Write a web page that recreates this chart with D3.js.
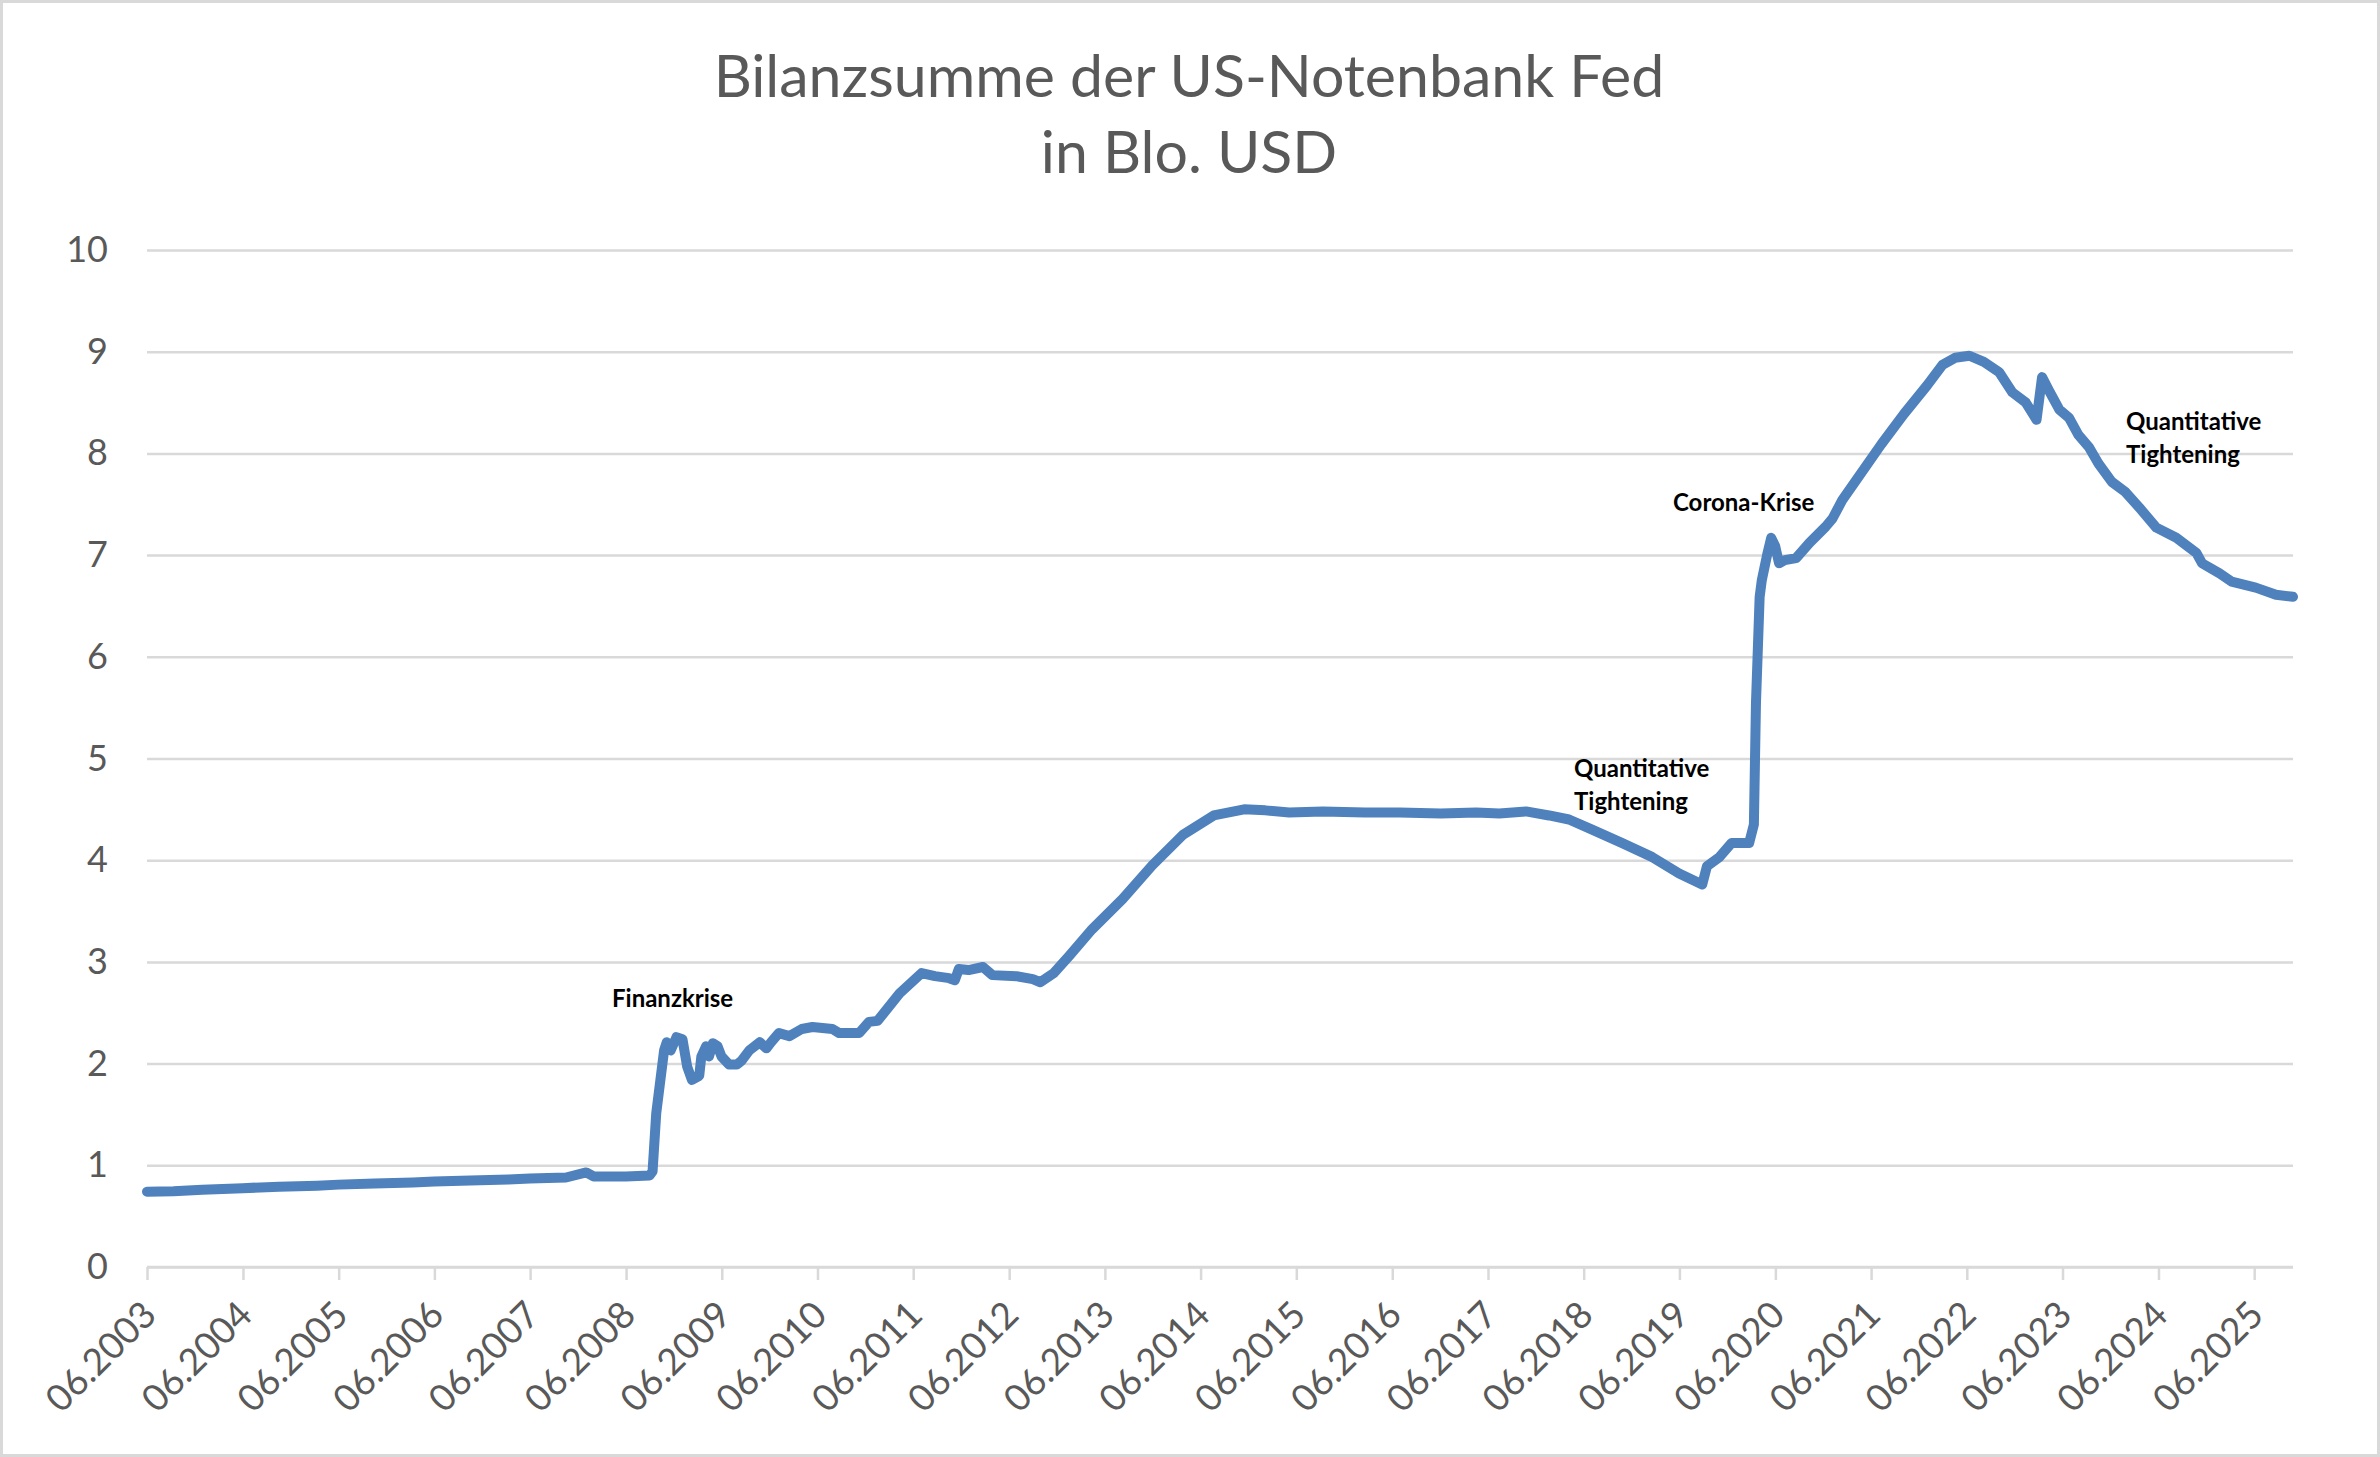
<!DOCTYPE html>
<html><head><meta charset="utf-8">
<script src="https://cdn.jsdelivr.net/npm/d3@7"></script>
<style>html,body{margin:0;padding:0;background:#fff;} svg{display:block}</style>
</head><body>
<svg id="chart" width="2380" height="1457"></svg>
<script>
// ---------- data ----------
const titleLines = ["Bilanzsumme der US-Notenbank Fed", "in Blo. USD"];
const dates = [
 "2003-06-04","2003-09-13","2004-01-01","2004-06-03","2004-10-19","2005-03-14","2005-06-03","2005-10-19",
 "2006-03-14","2006-06-03","2006-10-19","2007-03-14","2007-06-03","2007-10-19","2008-01-04","2008-02-01",
 "2008-06-03","2008-09-02","2008-09-13","2008-09-27","2008-10-08","2008-10-27","2008-11-06","2008-11-21",
 "2008-12-13","2009-01-05","2009-01-23","2009-02-10","2009-03-10","2009-03-18","2009-04-05","2009-04-16",
 "2009-05-01","2009-05-19","2009-06-03","2009-07-02","2009-07-31","2009-08-19","2009-09-17","2009-10-27",
 "2009-11-21","2009-12-09","2010-01-08","2010-02-17","2010-04-05","2010-05-16","2010-07-31","2010-08-26",
 "2010-11-10","2010-12-17","2011-01-19","2011-04-13","2011-07-06","2011-08-26","2011-10-19","2011-11-10",
 "2011-11-25","2012-01-01","2012-02-25","2012-04-01","2012-07-02","2012-09-02","2012-10-01","2012-11-21",
 "2013-01-19","2013-04-16","2013-08-11","2013-12-02","2014-03-29","2014-07-24","2014-11-17","2015-02-06",
 "2015-05-08","2015-09-13","2016-02-21","2016-07-02","2016-12-06","2017-04-20","2017-07-17","2017-10-27",
 "2018-01-23","2018-04-09","2018-07-06","2018-10-27","2019-02-21","2019-06-03","2019-08-30","2019-09-17",
 "2019-11-03","2019-12-20","2020-02-25","2020-03-14","2020-03-22","2020-04-05","2020-04-13","2020-05-05",
 "2020-05-19","2020-06-03","2020-06-18","2020-07-10","2020-08-22","2020-10-12","2020-12-13","2021-01-08",
 "2021-02-14","2021-04-09","2021-07-13","2021-10-08","2022-01-04","2022-03-03","2022-04-20","2022-06-14",
 "2022-08-08","2022-10-05","2022-11-25","2023-01-15","2023-02-25","2023-03-18","2023-04-13","2023-05-23",
 "2023-06-29","2023-08-04","2023-09-13","2023-10-19","2023-12-09","2024-01-30","2024-03-22","2024-05-27",
 "2024-08-11","2024-10-27","2024-11-17","2025-01-23","2025-03-10","2025-06-10","2025-08-26","2025-10-30"
];
const values = [
 0.74,0.745,0.76,0.775,0.79,0.80,0.81,0.82,
 0.83,0.84,0.85,0.86,0.87,0.88,0.93,0.89,
 0.89,0.90,0.94,1.51,1.74,2.13,2.21,2.13,
 2.26,2.24,1.97,1.84,1.88,2.07,2.17,2.07,
 2.20,2.17,2.07,1.99,1.99,2.03,2.13,2.21,
 2.15,2.21,2.30,2.27,2.34,2.36,2.34,2.30,
 2.30,2.41,2.42,2.69,2.89,2.86,2.84,2.82,
 2.93,2.92,2.95,2.87,2.86,2.83,2.80,2.89,
 3.06,3.32,3.62,3.95,4.25,4.44,4.50,4.49,
 4.47,4.48,4.47,4.47,4.46,4.47,4.46,4.48,
 4.44,4.40,4.30,4.17,4.03,3.87,3.76,3.94,
 4.03,4.17,4.17,4.35,5.55,6.59,6.75,7.02,
 7.17,7.09,6.92,6.95,6.97,7.12,7.28,7.36,
 7.54,7.74,8.09,8.39,8.67,8.87,8.94,8.96,
 8.90,8.80,8.60,8.50,8.33,8.75,8.62,8.43,
 8.35,8.18,8.06,7.90,7.72,7.62,7.47,7.27,
 7.17,7.02,6.92,6.82,6.74,6.68,6.61,6.59
];
const yTicks = [0,1,2,3,4,5,6,7,8,9,10];
const xTickYears = [2003,2004,2005,2006,2007,2008,2009,2010,2011,2012,2013,2014,2015,2016,2017,2018,2019,2020,2021,2022,2023,2024,2025];
const annotationTexts = [["Finanzkrise"],["Quantitative","Tightening"],["Corona-Krise"],["Quantitative","Tightening"]];

// ---------- layout ----------
const W = 2380, H = 1457;
const plot = {left:147, right:2293, top:250, bottom:1267};
const FONT = "Lato, 'Open Sans', sans-serif";
const gray = "#595959", grid = "#d9d9d9", blue = "#4f81bd";

const parse = d3.timeParse("%Y-%m-%d");
const data = dates.map((d,i)=>({date:parse(d), value:values[i]}));

const svg = d3.select("#chart");
svg.append("rect").attr("x",1.5).attr("y",1.5).attr("width",W-3).attr("height",H-3)
   .attr("fill","#fff").attr("stroke",grid).attr("stroke-width",3);

const x = d3.scaleTime()
  .domain([parse(dates[0]), parse(dates[dates.length-1])])
  .range([plot.left, plot.right]);
const y = d3.scaleLinear().domain([0,10]).range([plot.bottom, plot.top]);

// title
const title = svg.append("text").attr("text-anchor","middle").attr("fill",gray)
  .style("font-family",FONT).style("font-size","59px");
titleLines.forEach((t,i)=>title.append("tspan").attr("x",1189).attr("y",97+i*76).text(t));

// y grid + labels
const yAxis = d3.axisLeft(y).tickValues(yTicks).tickSize(-(plot.right-plot.left)).tickPadding(39);
const gy = svg.append("g").attr("transform",`translate(${plot.left},0)`).call(yAxis);
gy.select(".domain").remove();
gy.selectAll(".tick line").attr("stroke",grid).attr("stroke-width",2.5);
gy.selectAll(".tick text").attr("fill",gray).style("font-family",FONT).style("font-size","36px");

// x axis
const tickDates = xTickYears.map(yr=>new Date(yr,5,4));
const xAxis = d3.axisBottom(x).tickValues(tickDates).tickSize(13).tickFormat(d3.timeFormat("%m.%Y"));
const gx = svg.append("g").attr("transform",`translate(0,${plot.bottom})`).call(xAxis);
gx.select(".domain").attr("stroke",grid).attr("stroke-width",2.5).attr("d",`M${plot.left},0H${plot.right}`);
gx.selectAll(".tick line").attr("stroke",grid).attr("stroke-width",2.5);
gx.selectAll(".tick text").attr("fill",gray).style("font-family",FONT).style("font-size","37px")
  .attr("text-anchor","end").attr("dy",null).attr("y",null)
  .attr("transform","translate(11,50) rotate(-45)");

// line
const line = d3.line().x(d=>x(d.date)).y(d=>y(d.value)).curve(d3.curveLinear);
svg.append("path").datum(data).attr("d",line).attr("fill","none").attr("stroke",blue)
  .attr("stroke-width",10).attr("stroke-linejoin","round").attr("stroke-linecap","round");

// annotations
const annPos = [[612,1007],[1574,777],[1673,511],[2126,430]];
annotationTexts.forEach((lines,i)=>{
  const t = svg.append("text").attr("fill","#000").style("font-family",FONT)
    .style("font-size","24px").style("font-weight","700");
  lines.forEach((s,j)=>t.append("tspan").attr("x",annPos[i][0]).attr("y",annPos[i][1]+j*32.5).text(s));
});
</script>
</body></html>
